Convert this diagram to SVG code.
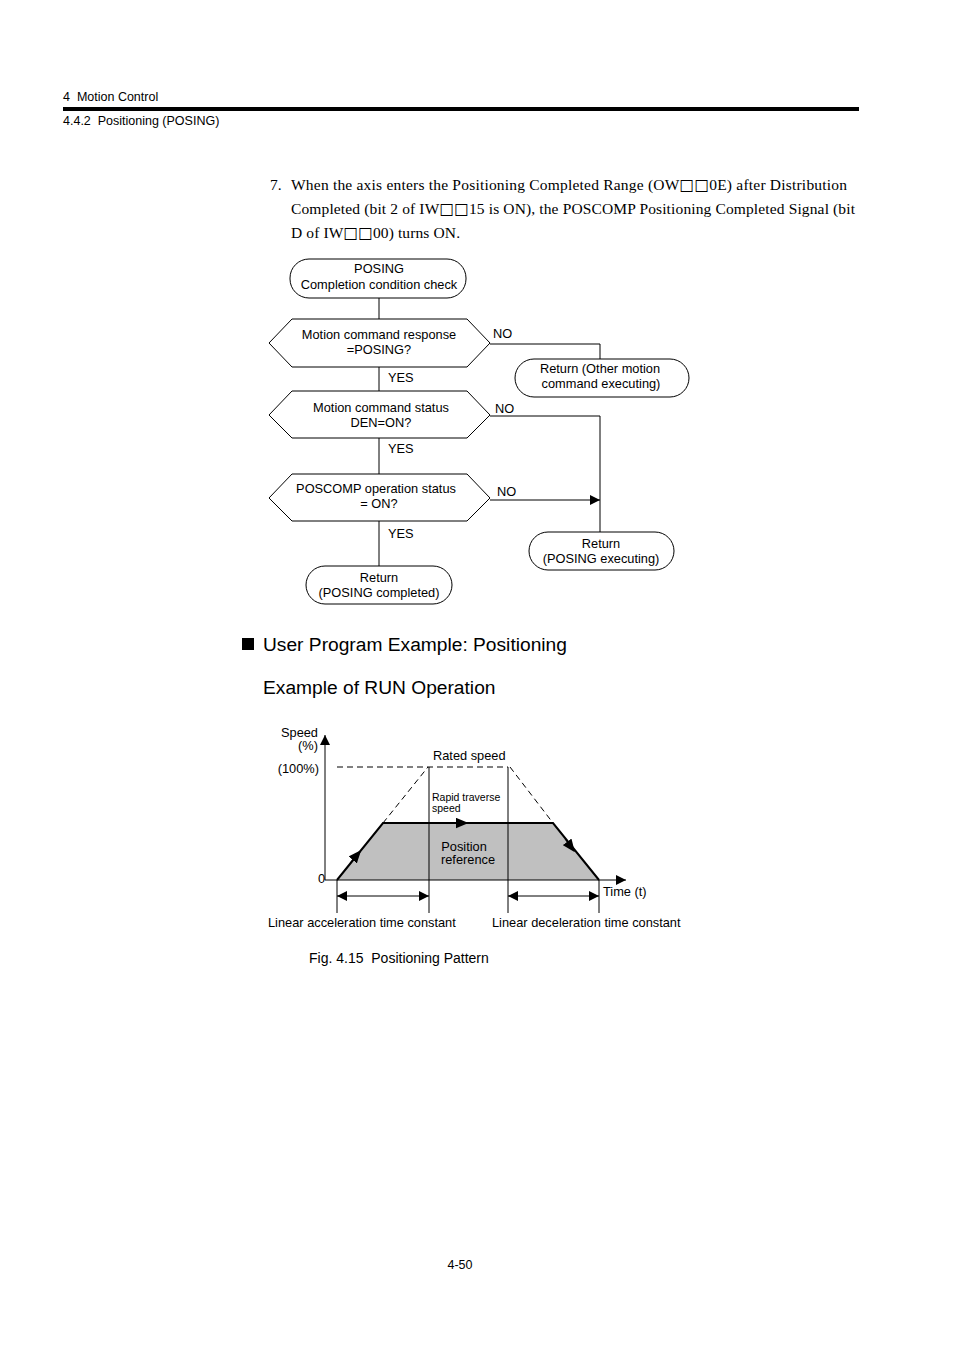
<svg xmlns="http://www.w3.org/2000/svg" width="954" height="1351" viewBox="0 0 954 1351">
<defs>
<style>
.s{font-family:"Liberation Sans",Arial,sans-serif;font-size:12.8px;fill:#000}
.c{text-anchor:middle}
.p{white-space:pre}
.t{font-family:"Liberation Serif","Times New Roman",serif;font-size:15.5px;fill:#000}
.q{font-family:"DejaVu Sans",sans-serif;font-weight:bold}
.h{font-family:"Liberation Sans",Arial,sans-serif;font-size:19.2px;fill:#000}
.n{fill:#fff;stroke:#000;stroke-width:1}
.l{fill:none;stroke:#000;stroke-width:1}
</style>
<marker id="ah" viewBox="0 0 10 10" refX="10" refY="5" markerWidth="10" markerHeight="10" markerUnits="userSpaceOnUse" orient="auto"><path d="M0,0 L10,5 L0,10 z" fill="#000"/></marker>
<marker id="ah2" viewBox="0 0 10 10" refX="10" refY="5" markerWidth="10" markerHeight="10" markerUnits="userSpaceOnUse" orient="auto-start-reverse"><path d="M0,0 L10,5 L0,10 z" fill="#000"/></marker>
<marker id="ab" viewBox="0 0 12 10" refX="6" refY="5" markerWidth="13" markerHeight="11" markerUnits="userSpaceOnUse" orient="auto"><path d="M0,0 L12,5 L0,10 z" fill="#000"/></marker>
</defs>
<rect width="954" height="1351" fill="#fff"/>
<g id="header">
<text class="s p" x="63" y="101" style="font-size:12.5px">4  Motion Control</text>
<rect x="63" y="107" width="796" height="4" fill="#000"/>
<text class="s p" x="63" y="125" style="font-size:12.5px">4.4.2  Positioning (POSING)</text>
</g>
<g id="para">
<text class="t" x="270" y="190">7.</text>
<text class="t" x="291" y="190" textLength="556" lengthAdjust="spacing">When the axis enters the Positioning Completed Range (OW<tspan class="q">□□</tspan>0E) after Distribution</text>
<text class="t" x="291" y="214" textLength="564" lengthAdjust="spacing">Completed (bit 2 of IW<tspan class="q">□□</tspan>15 is ON), the POSCOMP Positioning Completed Signal (bit</text>
<text class="t" x="291" y="238" textLength="169" lengthAdjust="spacing">D of IW<tspan class="q">□□</tspan>00) turns ON.</text>
</g>
<g id="connectors">
<line class="l" x1="379" y1="298" x2="379" y2="319"/>
<polyline class="l" points="490,344 600,344 600,359"/>
<line class="l" x1="379" y1="367" x2="379" y2="391"/>
<polyline class="l" points="490,416 600,416 600,532"/>
<line class="l" x1="379" y1="438" x2="379" y2="474"/>
<line class="l" x1="490" y1="500" x2="600" y2="500" marker-end="url(#ah)"/>
<line class="l" x1="379" y1="521" x2="379" y2="566"/>
<text class="s" x="493" y="338">NO</text>
<text class="s" x="495" y="413">NO</text>
<text class="s" x="497" y="496">NO</text>
<text class="s" x="388" y="382">YES</text>
<text class="s" x="388" y="453">YES</text>
<text class="s" x="388" y="538">YES</text>
</g>
<g id="start">
<rect class="n" x="290" y="259" width="176" height="39" rx="19"/>
<text class="s c" x="379" y="273">POSING</text>
<text class="s c" x="379" y="289">Completion condition check</text>
</g>
<g id="dec1">
<polygon class="n" points="269,343 292,319 467,319 490,343 467,367 292,367"/>
<text class="s c" x="379" y="339">Motion command response</text>
<text class="s c" x="379" y="354">=POSING?</text>
</g>
<g id="ret1">
<rect class="n" x="515" y="359" width="174" height="38" rx="19"/>
<text class="s c" x="600" y="373">Return (Other motion</text>
<text class="s c" x="601" y="388">command executing)</text>
</g>
<g id="dec2">
<polygon class="n" points="269,415 292,391 467,391 490,415 467,438 292,438"/>
<text class="s c" x="381" y="412">Motion command status</text>
<text class="s c" x="381" y="427">DEN=ON?</text>
</g>
<g id="dec3">
<polygon class="n" points="269,498 292,474 467,474 490,498 467,521 292,521"/>
<text class="s c" x="376" y="493">POSCOMP operation status</text>
<text class="s c" x="379" y="508">= ON?</text>
</g>
<g id="ret2">
<rect class="n" x="529" y="532" width="145" height="38" rx="19"/>
<text class="s c" x="601" y="548">Return</text>
<text class="s c" x="601" y="563">(POSING executing)</text>
</g>
<g id="ret3">
<rect class="n" x="306" y="566" width="146" height="38" rx="19"/>
<text class="s c" x="379" y="582">Return</text>
<text class="s c" x="379" y="597">(POSING completed)</text>
</g>
<g id="headings">
<rect x="242" y="638" width="12" height="12" fill="#000"/>
<text class="h" x="263" y="651">User Program Example: Positioning</text>
<text class="h" x="263" y="694">Example of RUN Operation</text>
</g>
<g id="chart">
<polygon points="337,880 383,823 553,823 599,880" fill="#c0c0c0"/>
<polyline points="337,880 383,823 553,823 599,880" fill="none" stroke="#000" stroke-width="2"/>
<line class="l" x1="325" y1="880" x2="325" y2="735" marker-end="url(#ah)"/>
<line class="l" x1="325" y1="880" x2="626" y2="880" marker-end="url(#ah)"/>
<line class="l" x1="337" y1="767" x2="508" y2="767" stroke-dasharray="6,4"/>
<line class="l" x1="383" y1="823" x2="428" y2="767" stroke-dasharray="6,4"/>
<line class="l" x1="510" y1="767" x2="553" y2="823" stroke-dasharray="6,4"/>
<line class="l" x1="429" y1="767" x2="429" y2="913"/>
<line class="l" x1="508" y1="767" x2="508" y2="913"/>
<line class="l" x1="337" y1="880" x2="337" y2="913"/>
<line class="l" x1="599" y1="880" x2="599" y2="913"/>
<line class="l" x1="350" y1="863" x2="357" y2="855" marker-end="url(#ab)"/>
<line class="l" x1="455" y1="823" x2="462" y2="823" marker-end="url(#ab)"/>
<line class="l" x1="565" y1="839" x2="571" y2="847" marker-end="url(#ab)"/>
<line class="l" x1="337" y1="896" x2="429" y2="896" marker-start="url(#ah2)" marker-end="url(#ah2)"/>
<line class="l" x1="508" y1="896" x2="599" y2="896" marker-start="url(#ah2)" marker-end="url(#ah2)"/>
<text class="s" x="318" y="737" text-anchor="end">Speed</text>
<text class="s" x="318" y="750" text-anchor="end">(%)</text>
<text class="s" x="319" y="773" text-anchor="end">(100%)</text>
<text class="s" x="325" y="883" text-anchor="end">0</text>
<text class="s" x="433" y="760">Rated speed</text>
<text class="s" x="432" y="801" style="font-size:10.5px">Rapid traverse</text>
<text class="s" x="432" y="812" style="font-size:10.5px">speed</text>
<text class="s c" x="464" y="851">Position</text>
<text class="s c" x="468" y="864">reference</text>
<text class="s" x="603" y="896">Time (t)</text>
<text class="s" x="268" y="927">Linear acceleration time constant</text>
<text class="s" x="492" y="927">Linear deceleration time constant</text>
<text class="s p" x="309" y="963" style="font-size:14px">Fig. 4.15  Positioning Pattern</text>
</g>
<g id="footer">
<text class="s c" x="460" y="1269" style="font-size:12.5px">4-50</text>
</g>
</svg>
